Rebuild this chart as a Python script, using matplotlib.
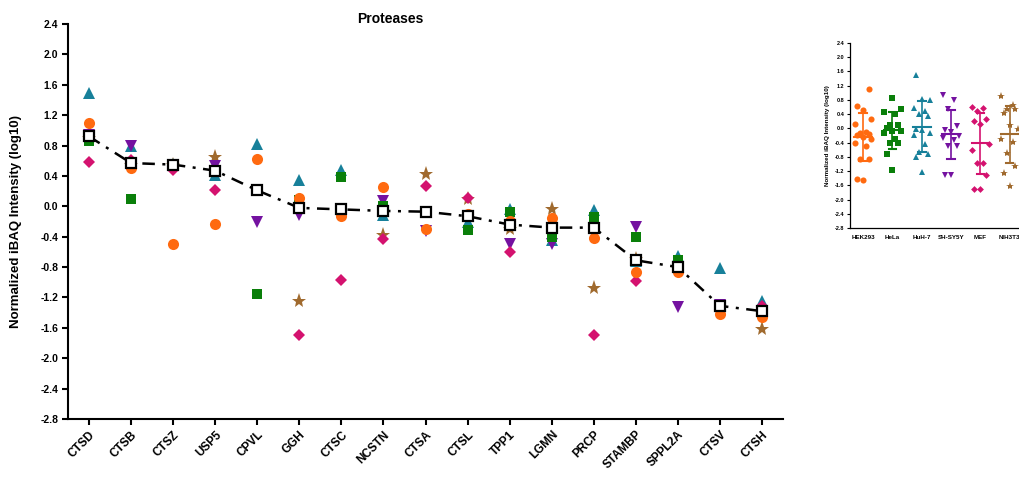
import numpy as np
import matplotlib
matplotlib.use("Agg")
import matplotlib.pyplot as plt
from matplotlib.ticker import FuncFormatter

plt.rcParams['font.family'] = ['Liberation Sans', 'DejaVu Sans']
plt.rcParams['font.weight'] = 'bold'

nan = np.nan
proteins = ["CTSD", "CTSB", "CTSZ", "USP5", "CPVL", "GGH", "CTSC", "NCSTN", "CTSA",
            "CTSL", "TPP1", "LGMN", "PRCP", "STAMBP", "SPPL2A", "CTSV", "CTSH"]

hek293 = [1.10, 0.51, -0.50, -0.23, 0.63, 0.11, -0.13, 0.25, -0.30, -0.10, -0.19, -0.15, -0.42, -0.87, -0.87, -1.42, -1.46]
hela   = [0.86, 0.10, 0.55, 0.47, -1.16, 0.08, 0.39, 0.00, -0.07, -0.31, -0.08, -0.40, -0.14, -0.41, -0.71, nan, nan]
huh7   = [1.49, 0.80, 0.56, 0.41, 0.82, 0.35, 0.48, -0.12, nan, -0.20, -0.03, -0.44, -0.05, -0.72, -0.66, -0.81, -1.24]
shsy5y = [0.94, 0.80, nan, 0.53, -0.21, -0.11, -0.04, 0.07, -0.32, nan, -0.50, -0.50, nan, -0.27, -1.32, -1.30, nan]
mef    = [0.58, 0.61, 0.48, 0.21, nan, -1.70, -0.97, -0.43, 0.27, 0.11, -0.60, nan, -1.70, -0.98, nan, nan, -1.31]
nih3t3 = [0.90, 0.55, 0.55, 0.65, nan, -1.25, nan, -0.38, 0.42, 0.10, -0.30, -0.03, -1.07, -0.69, nan, nan, -1.62]
mean_vals = [0.92, 0.57, 0.55, 0.47, 0.21, -0.02, -0.04, -0.06, -0.07, -0.13, -0.24, -0.28, -0.28, -0.71, -0.80, -1.31, -1.38]

cell_lines = ["HEK293", "HeLa", "HuH-7", "SH-SY5Y", "MEF", "NIH3T3"]
colors = {"HEK293": "#FF6A10", "HeLa": "#0A7F0A", "HuH-7": "#17809A",
          "SH-SY5Y": "#7412A0", "MEF": "#D4126F", "NIH3T3": "#A06A2E"}
markers = {"HEK293": "o", "HeLa": "s", "HuH-7": "^", "SH-SY5Y": "v", "MEF": "D", "NIH3T3": "*"}
msizes = {"HEK293": 8, "HeLa": 7.5, "HuH-7": 8, "SH-SY5Y": 8, "MEF": 6.3, "NIH3T3": 11}
series = {"HEK293": hek293, "HeLa": hela, "HuH-7": huh7, "SH-SY5Y": shsy5y, "MEF": mef, "NIH3T3": nih3t3}
draw_order = ["NIH3T3", "HuH-7", "SH-SY5Y", "MEF", "HeLa", "HEK293"]

fmt = FuncFormatter(lambda v, p: f"{0.0 if abs(v) < 1e-9 else v:.1f}")

fig = plt.figure(figsize=(10.2, 4.82), dpi=100)
ax = fig.add_axes([0.0667, 0.1307, 0.701, 0.8193])
x = np.arange(len(proteins))
for name in draw_order:
    ax.plot(x, series[name], linestyle='none', marker=markers[name], color=colors[name],
            markersize=msizes[name], markeredgewidth=0, zorder=3)
ax.plot(x, mean_vals, color='black', linestyle=(0, (5, 3, 1.2, 3)), linewidth=1.8,
        marker='s', markersize=6.5, markerfacecolor='white', markeredgecolor='black',
        markeredgewidth=1.6, zorder=4)

ax.set_xlim(-0.5, 16.5)
ax.set_ylim(-2.8, 2.4)
yt = np.round(np.arange(-2.8, 2.41, 0.4), 1)
ax.set_yticks(yt)
ax.yaxis.set_major_formatter(fmt)
ax.set_xticks(x)
ax.set_xticklabels(proteins, rotation=45, ha='right', rotation_mode='anchor',
                   fontsize=8.5, fontweight='bold')
ax.tick_params(axis='both', direction='out', length=4, width=1.5, pad=3)
ax.tick_params(axis='y', labelsize=7.5)
for s in ['top', 'right']:
    ax.spines[s].set_visible(False)
for s in ['left', 'bottom']:
    ax.spines[s].set_linewidth(1.5)
ax.set_ylabel("Normalized iBAQ Intensity (log10)", fontsize=9.5, fontweight='bold', labelpad=13)
fig.text(390 / 1020, 1 - 19 / 482, "Proteases", ha='center', va='center',
         fontsize=10, fontweight='bold')

# inset: distribution per cell line
ax2 = fig.add_axes([0.8333, 0.527, 0.168, 0.384])
offsets_cycle = [0.0, -0.2, 0.2, -0.1, 0.1, -0.28, 0.28]
for i, name in enumerate(cell_lines):
    vals = np.array(series[name], dtype=float)
    vals = vals[~np.isnan(vals)]
    order = np.argsort(vals)
    xs = np.empty(len(vals))
    for k, idx in enumerate(order):
        xs[idx] = i + offsets_cycle[k % len(offsets_cycle)]
    c = colors[name]
    ax2.plot(xs, vals, linestyle='none', marker=markers[name], color=c,
             markersize=msizes[name] * 0.55, markeredgewidth=0, zorder=3)
    m = vals.mean()
    sd = vals.std(ddof=1)
    ax2.plot([i - 0.3, i + 0.3], [m, m], color=c, linewidth=1.5, zorder=4)
    ax2.plot([i, i], [m - sd, m + sd], color=c, linewidth=1.2, zorder=4)
    for yy in (m - sd, m + sd):
        ax2.plot([i - 0.13, i + 0.13], [yy, yy], color=c, linewidth=1.5, zorder=4)
ax2.set_xlim(-0.45, 5.4)
ax2.set_ylim(-2.8, 2.4)
ax2.set_yticks(yt)
ax2.yaxis.set_major_formatter(fmt)
ax2.tick_params(axis='y', labelsize=4)
ax2.set_xticks(np.arange(len(cell_lines)))
ax2.set_xticklabels(cell_lines, fontsize=4.5, fontweight='bold')
ax2.tick_params(axis='both', direction='out', length=2, width=0.8, pad=2)
ax2.tick_params(axis='x', length=0, pad=5)
for s in ['top', 'right']:
    ax2.spines[s].set_visible(False)
for s in ['left', 'bottom']:
    ax2.spines[s].set_linewidth(0.9)
ax2.set_ylabel("Normalized iBAQ Intensity (log10)", fontsize=4.5, fontweight='bold', labelpad=3)

fig.savefig("out.png", dpi=100)
